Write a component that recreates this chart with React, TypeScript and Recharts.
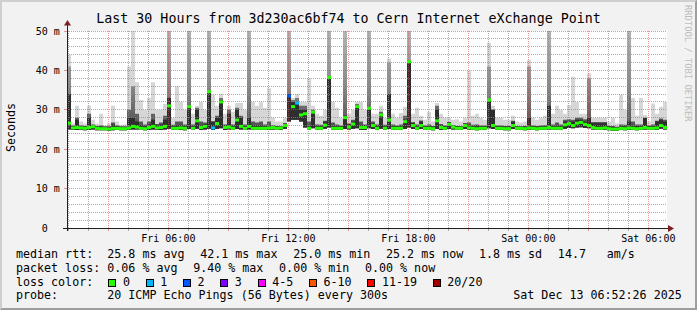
import React from "react";
import { ComposedChart, Area, Scatter, XAxis, YAxis, ReferenceLine, CartesianGrid } from "recharts";

// ---- time axis (minutes since Fri 00:00) ----
const START_MIN = 56; // Fri 00:56
const STEP_MIN = 12;
const END_MIN = 1856; // Sat 06:56

const xLabelTicks = [360, 720, 1080, 1440, 1800];
const xLabels = ["Fri 06:00", "Fri 12:00", "Fri 18:00", "Sat 00:00", "Sat 06:00"];
const hourTicks = [60, 120, 180, 240, 300, 360, 420, 480, 540, 600, 660, 720, 780, 840, 900, 960, 1020, 1080, 1140, 1200, 1260, 1320, 1380, 1440, 1500, 1560, 1620, 1680, 1740, 1800];
const yLabelTicks = [0, 10, 20, 30, 40, 50];
const yLabels = ["0  ", "10 m", "20 m", "30 m", "40 m", "50 m"];
const yMinorGrid = [2, 4, 6, 8, 12, 14, 16, 18, 22, 24, 26, 28, 32, 34, 36, 38, 42, 44, 46, 48];
const yMajorGrid = [10, 20, 30, 40, 50];

// ---- RTT data (ms), one value per 12-minute bin ----
const med = [
  26.6, 25.4, 25.5, 25.4, 25.3, 25.5, 25.7, 25.3, 25.2, 25.2,
  25.1, 25.3, 25.3, 25.2, 25.2, 25.4, 25.8, 25.6, 25.3, 25.2,
  25.5, 25.8, 25.4, 25.5, 25.8, 31.0, 25.3, 25.3, 25.4, 25.3,
  30.8, 25.3, 27.2, 25.5, 25.8, 34.6, 25.4, 26.5, 32.0, 25.5,
  25.6, 25.3, 27.4, 25.8, 25.3, 25.8, 25.3, 25.3, 25.3, 25.3,
  25.4, 25.5, 25.3, 25.4, 26.0, 33.5, 30.8, 31.7, 28.7, 29.0,
  25.3, 29.4, 25.3, 25.3, 26.1, 38.2, 25.3, 25.3, 25.3, 28.0,
  25.6, 26.4, 30.8, 25.5, 25.5, 30.4, 26.0, 25.3, 28.7, 25.3,
  27.4, 25.3, 25.3, 25.3, 27.0, 42.2, 26.0, 25.3, 26.0, 25.3,
  25.3, 25.2, 27.2, 25.5, 25.3, 26.3, 25.6, 25.3, 25.3, 26.0,
  25.4, 25.3, 25.2, 25.3, 25.3, 32.5, 26.0, 25.3, 25.3, 25.2,
  25.2, 26.0, 25.3, 25.3, 25.2, 25.4, 25.3, 25.2, 25.3, 25.3,
  25.5, 25.3, 25.3, 25.3, 26.2, 26.5, 26.0, 26.6, 26.8, 26.3,
  26.0, 25.5, 25.3, 25.3, 25.4, 25.2, 25.1, 25.1, 25.3, 25.2,
  25.4, 25.3, 25.2, 25.3, 25.5, 25.3, 25.3, 25.4, 26.0, 25.5,
];
const low = [
  25.0, 24.9, 24.9, 24.9, 24.8, 24.9, 25.0, 24.8, 24.8, 24.8,
  24.7, 24.8, 24.9, 24.8, 24.8, 24.9, 25.0, 25.0, 24.9, 24.8,
  24.9, 25.0, 24.9, 24.9, 25.0, 25.2, 24.9, 24.9, 24.9, 24.8,
  25.1, 24.9, 25.2, 24.9, 25.0, 25.2, 24.9, 25.1, 25.3, 24.9,
  25.0, 24.9, 25.1, 25.0, 24.9, 25.0, 24.9, 24.9, 24.9, 24.9,
  24.9, 25.0, 24.9, 24.9, 25.2, 27.0, 27.5, 27.5, 27.0, 25.5,
  24.9, 25.3, 24.9, 24.9, 25.2, 25.5, 24.9, 24.9, 24.9, 25.1,
  25.0, 25.2, 25.3, 24.9, 24.9, 25.3, 25.1, 24.9, 25.2, 24.9,
  25.1, 24.9, 24.9, 24.9, 25.1, 25.5, 25.1, 24.9, 25.1, 24.9,
  24.9, 24.8, 25.1, 24.9, 24.9, 25.1, 25.0, 24.9, 24.9, 25.1,
  24.9, 24.9, 24.8, 24.9, 24.9, 25.3, 25.1, 24.9, 24.9, 24.8,
  24.8, 25.1, 24.9, 24.9, 24.8, 24.9, 24.9, 24.8, 24.9, 24.9,
  25.0, 24.9, 24.9, 24.9, 25.2, 25.4, 25.3, 25.5, 25.6, 25.4,
  25.3, 25.0, 24.9, 24.9, 24.9, 24.8, 24.7, 24.7, 24.9, 24.8,
  24.9, 24.9, 24.8, 24.9, 25.0, 24.9, 24.9, 24.9, 25.2, 25.0,
];
const q3 = [
  34, 25.8, 27.5, 25.8, 25.7, 28, 26, 25.7, 25.7, 25.6,
  25.6, 26.3, 25.8, 25.6, 25.6, 28, 28, 27, 26, 25.8,
  26.3, 27.5, 26, 26.3, 27.5, 33, 25.8, 26, 26, 25.8,
  31, 25.8, 30, 26.1, 26.4, 34.6, 27, 28, 32.5, 26,
  29, 25.8, 30, 28, 25.8, 28, 26, 26, 26, 25.8,
  26, 25.9, 25.7, 25.8, 26.5, 34, 32, 32, 30, 30,
  25.8, 29.5, 25.8, 25.8, 27, 38.4, 25.8, 25.8, 25.8, 28.5,
  26.3, 27, 31, 26, 26, 30.5, 26.5, 25.8, 29, 25.8,
  34, 25.8, 25.8, 25.8, 27.5, 42.2, 26.8, 25.8, 27, 25.8,
  25.8, 25.7, 30, 26, 25.8, 26.8, 26, 25.8, 25.7, 26.5,
  25.9, 25.8, 25.8, 25.8, 25.8, 32.5, 30, 25.8, 25.8, 25.7,
  25.7, 27, 25.7, 25.7, 25.7, 28, 25.8, 25.7, 25.8, 25.8,
  31, 25.8, 25.8, 25.8, 27, 27, 27, 27.5, 27.5, 27,
  28, 26.6, 26.6, 26.6, 26.6, 25.7, 25.6, 25.5, 25.8, 25.7,
  27, 25.8, 25.8, 25.8, 27.9, 25.8, 25.8, 27, 27.5, 27,
];
const p90 = [
  41, 26, 28, 26, 25.9, 29, 26.3, 25.9, 26, 25.8,
  25.8, 26.8, 26, 25.8, 25.8, 30, 36, 29, 27, 26.3,
  27, 29, 26.4, 26.8, 28.5, 60, 26.2, 27, 27, 26.3,
  60, 26.3, 30.5, 27, 26.8, 60, 27, 28.5, 33, 26.3,
  30, 26.3, 30.5, 28.5, 26.3, 60, 27, 26.8, 27, 26.3,
  27, 26.1, 25.9, 25.9, 26.6, 60, 32.5, 33, 31, 31,
  27, 30, 26.3, 26.2, 27.2, 60, 26.8, 26.3, 26, 60,
  26.5, 27.5, 31.5, 27, 26.3, 60, 27, 26.3, 29.5, 26.2,
  42, 26.3, 26, 26.3, 28.5, 60, 26.8, 26.3, 27.3, 26,
  26.3, 25.9, 31, 26.4, 26, 26.9, 26.1, 25.9, 25.9, 26.6,
  26.8, 26.2, 26.3, 26, 26, 41, 30, 26, 26, 25.9,
  25.9, 27.2, 25.9, 25.8, 25.9, 41, 26, 25.9, 26, 26.1,
  60, 26.3, 26.8, 26.3, 27.5, 27.6, 27.5, 28, 28, 27.6,
  38, 26.9, 26.9, 26.9, 26.9, 25.9, 25.9, 25.7, 26.3, 26.2,
  60, 27, 26.3, 26.3, 28, 26, 26.3, 27.2, 27.8, 27.5,
];
const hi = [
  44, 26.5, 31, 27, 26.5, 31, 27.5, 26.5, 29, 26,
  26.5, 31, 27, 26.2, 26.3, 41, 52, 37, 32.5, 30,
  33, 37, 30, 30, 31.5, 60, 28, 36, 32, 30,
  60, 29, 31, 32, 30, 60, 33.8, 31, 34, 29,
  31, 29.5, 31.7, 31.7, 30, 60, 32, 31, 32, 30.5,
  35.5, 28, 27, 27, 28, 60, 33, 34, 32, 32,
  38, 31, 29, 28.5, 30, 60, 32, 30.5, 28, 60,
  29, 30, 32, 32, 30, 60, 29, 29, 31, 28,
  43, 29, 28, 29.2, 30.8, 60, 29, 30.5, 28.5, 27.5,
  29.5, 27, 31.7, 29, 28, 28, 27.5, 27.6, 27, 28,
  40, 28.5, 29, 28, 27.5, 47, 31, 28, 28, 27.5,
  27.5, 28.5, 27, 26.8, 27, 42.6, 28, 27.5, 28, 28.5,
  60, 29, 31, 30, 29, 31.2, 38.4, 32, 29, 29,
  39.2, 28, 28, 28, 28, 27, 28, 26.5, 33.8, 30,
  60, 33, 28.5, 33, 28.7, 27, 31.6, 29, 30.8, 32,
];
// lost pings per bin (of 20)
const loss = [
  0, 0, 0, 0, 0, 0, 0, 0, 0, 0,
  0, 0, 0, 0, 0, 0, 0, 0, 0, 0,
  0, 0, 0, 0, 0, 0, 0, 0, 0, 0,
  0, 0, 0, 0, 0, 0, 1, 0, 0, 0,
  0, 0, 0, 0, 0, 0, 0, 0, 0, 0,
  0, 0, 0, 0, 0, 2, 0, 1, 0, 0,
  0, 0, 0, 0, 0, 0, 0, 0, 0, 0,
  0, 0, 0, 0, 0, 0, 0, 0, 0, 0,
  0, 0, 0, 0, 0, 0, 0, 0, 0, 0,
  0, 0, 0, 0, 0, 0, 0, 0, 0, 0,
  0, 0, 0, 0, 0, 0, 0, 0, 0, 0,
  0, 0, 0, 0, 0, 0, 0, 0, 0, 0,
  0, 0, 0, 0, 0, 0, 0, 0, 0, 0,
  0, 0, 0, 0, 0, 0, 0, 0, 0, 0,
  0, 0, 0, 0, 0, 0, 0, 0, 0, 0,
];

// ---- legend ----
const lossLabels = ["0", "1", "2", "3", "4-5", "6-10", "11-19", "20/20"];
const lossColors = ["#26ff00", "#00b8ff", "#0059ff", "#7e00ff", "#ff00ff", "#ff5500", "#ff0000", "#a10000"];
const lossColorOf = (n: number) => (n <= 0 ? lossColors[0] : n === 1 ? lossColors[1] : n === 2 ? lossColors[2] : n === 3 ? lossColors[3] : n <= 5 ? lossColors[4] : n <= 10 ? lossColors[5] : n <= 19 ? lossColors[6] : lossColors[7]);

const TITLE = "Last 30 Hours from 3d230ac6bf74 to Cern Internet eXchange Point";
const rttStats = ["25.8 ms avg", "42.1 ms max", "25.0 ms min", "25.2 ms now", "1.8 ms sd"];
const lossStats = ["0.06 % avg", "9.40 % max", "0.00 % min", "0.00 % now"];
const amsValue = "14.7";
const PROBE = "20 ICMP Echo Pings (56 Bytes) every 300s";
const STAMP = "Sat Dec 13 06:52:26 2025";

// ---- derived chart tables ----
const chartData = med.map((_, i) => ({ m: START_MIN + i * STEP_MIN, low: low[i], q3: q3[i], p90: p90[i], hi: hi[i] }));
chartData.push({ ...chartData[chartData.length - 1], m: END_MIN });
const medianPts = med.map((v, i) => ({ m: START_MIN + i * STEP_MIN + STEP_MIN / 2, med: v, loss: loss[i] }));

// ---- styles ----
const FONT = "'DejaVu Sans Mono', monospace";
const MINOR = "rgba(143,143,143,0.75)";
const MAJOR = "rgba(222,79,79,0.6)";
const CH = 7.02; // legend char advance
const GAP = 15.7;

const XTick = (props: any) => {
  const { x, y, payload } = props;
  const v = payload.value;
  const idx = xLabelTicks.indexOf(v);
  const major = v % 180 === 0;
  return (
    <g>
      <line x1={x} x2={x} y1={y} y2={y + 3} stroke={major ? MAJOR : MINOR} shapeRendering="crispEdges" />
      {idx >= 0 && (
        <text x={x} y={y + 13.5} textAnchor="middle" fontFamily={FONT} fontSize={10} fill="#000">
          {xLabels[idx]}
        </text>
      )}
    </g>
  );
};

const YTick = (props: any) => {
  const { x, y, payload } = props;
  const idx = yLabelTicks.indexOf(payload.value);
  return (
    <g>
      <line x1={x - 3} x2={x} y1={y} y2={y} stroke={payload.value === 0 ? "#1f1f1f" : MAJOR} shapeRendering="crispEdges" />
      <text x={x - 7.2} y={y + 3.6} textAnchor="end" fontFamily={FONT} fontSize={10} fill="#000" xmlSpace="preserve" style={{ whiteSpace: "pre" }}>
        {yLabels[idx]}
      </text>
    </g>
  );
};

const MedianMark = (props: any) => {
  const { cx, cy, payload } = props;
  if (cx == null || cy == null) return <g />;
  return <rect x={cx - 2} y={cy - 1.5} width={4} height={3} fill={lossColorOf(payload.loss)} />;
};

const LegendText = ({ x, y, children, anchor }: any) => (
  <text x={x} y={y} fontFamily={FONT} fontSize={11.66} fill="#000" textAnchor={anchor || "start"} xmlSpace="preserve" style={{ whiteSpace: "pre" }}>
    {children}
  </text>
);

function Legend() {
  const rows: any[] = [];
  let x = 107.3;
  rows.push(<LegendText key="r1l" x={16} y={258.3}>median rtt:</LegendText>);
  rttStats.forEach((s, i) => {
    rows.push(<LegendText key={"r1" + i} x={x} y={258.3}>{s}</LegendText>);
    x += s.length * CH + GAP;
  });
  rows.push(<LegendText key="r1a" x={x} y={258.3}>{amsValue}</LegendText>);
  rows.push(<LegendText key="r1b" x={606.7} y={258.3}>am/s</LegendText>);
  x = 107.3;
  rows.push(<LegendText key="r2l" x={16} y={272}>packet loss:</LegendText>);
  lossStats.forEach((s, i) => {
    rows.push(<LegendText key={"r2" + i} x={x} y={272}>{s}</LegendText>);
    x += s.length * CH + GAP;
  });
  rows.push(<LegendText key="r3l" x={16} y={285.7}>loss color:</LegendText>);
  x = 108.3;
  lossLabels.forEach((s, i) => {
    rows.push(<rect key={"r3b" + i} x={x + 0.5} y={279.5} width={7} height={7} fill={lossColors[i]} stroke="#000" strokeWidth={1} shapeRendering="crispEdges" />);
    rows.push(<LegendText key={"r3t" + i} x={x + 14.6} y={285.7}>{s}</LegendText>);
    x += 14.6 + s.length * CH + GAP;
  });
  rows.push(<LegendText key="r4l" x={16} y={299.4}>probe:</LegendText>);
  rows.push(<LegendText key="r4p" x={107.3} y={299.4}>{PROBE}</LegendText>);
  rows.push(<LegendText key="r4s" x={513.3} y={299.4}>{STAMP}</LegendText>);
  return <g>{rows}</g>;
}

export default function App() {
  return (
    <div
      style={{
        position: "absolute",
        left: 0,
        top: 0,
        width: 697,
        height: 310,
        background: "#f2f2f2",
        boxSizing: "border-box",
        borderTop: "2px solid #cfcfcf",
        borderLeft: "2px solid #cfcfcf",
        borderRight: "2px solid #9e9e9e",
        borderBottom: "2px solid #9e9e9e",
        overflow: "hidden",
      }}
    >
      <div style={{ position: "absolute", left: -2, top: -2 }}>
        <ComposedChart width={697} height={310} data={chartData} margin={{ top: 31, right: 30, bottom: 0, left: 0 }}>
          <defs>
            <linearGradient id="smokeMid" x1="0" y1="31" x2="0" y2="128" gradientUnits="userSpaceOnUse">
              <stop offset="0" stopColor="#b4b4b4" />
              <stop offset="0.55" stopColor="#8a8a8a" />
              <stop offset="1" stopColor="#505050" />
            </linearGradient>
          </defs>
          <CartesianGrid horizontal={false} vertical={false} fill="#ffffff" />
          <XAxis
            dataKey="m"
            type="number"
            domain={[START_MIN, END_MIN]}
            ticks={hourTicks}
            interval={0}
            height={82}
            tickSize={0}
            tickMargin={0}
            axisLine={false}
            tickLine={false}
            tick={<XTick />}
            allowDataOverflow
          />
          <YAxis
            type="number"
            domain={[0, 50]}
            ticks={yLabelTicks}
            interval={0}
            width={67}
            tickSize={0}
            tickMargin={0}
            axisLine={false}
            tickLine={false}
            tick={<YTick />}
            allowDataOverflow
          />
          <Area type="stepAfter" dataKey={(d: any) => [d.low, d.hi]} fill="#d6d6d6" fillOpacity={1} stroke="none" dot={false} activeDot={false} isAnimationActive={false} />
          <Area type="stepAfter" dataKey={(d: any) => [d.low, d.p90]} fill="url(#smokeMid)" fillOpacity={1} stroke="none" dot={false} activeDot={false} isAnimationActive={false} />
          <Area type="stepAfter" dataKey={(d: any) => [d.low, d.q3]} fill="#2e2e2e" fillOpacity={1} stroke="none" dot={false} activeDot={false} isAnimationActive={false} />
          <Scatter data={medianPts} dataKey="med" shape={<MedianMark />} isAnimationActive={false} />
          {yMinorGrid.map((v) => (
            <ReferenceLine key={"gy" + v} y={v} stroke={MINOR} strokeDasharray="1 1" shapeRendering="crispEdges" />
          ))}
          {hourTicks.filter((v) => v % 180 !== 0).map((v) => (
            <ReferenceLine key={"gx" + v} x={v} stroke={MINOR} strokeDasharray="1 1" shapeRendering="crispEdges" />
          ))}
          {yMajorGrid.map((v) => (
            <ReferenceLine key={"my" + v} y={v} stroke={MAJOR} strokeDasharray="1 1" shapeRendering="crispEdges" />
          ))}
          {hourTicks.filter((v) => v % 180 === 0).map((v) => (
            <ReferenceLine key={"mx" + v} x={v} stroke={MAJOR} strokeDasharray="1 1" shapeRendering="crispEdges" />
          ))}
        </ComposedChart>
      </div>
      <svg width={697} height={310} style={{ position: "absolute", left: -2, top: -2, pointerEvents: "none" }}>
        <text x={348.5} y={23} textAnchor="middle" fontFamily={FONT} fontSize={13.3} fill="#000">
          {TITLE}
        </text>
        <text transform="translate(15,127.5) rotate(-90)" textAnchor="middle" fontFamily={FONT} fontSize={11.66} fill="#000">
          Seconds
        </text>
        <text transform="translate(685,5) rotate(90)" fontFamily={FONT} fontSize={8.8} fill="#bdbdbd">
          RRDTOOL / TOBI OETIKER
        </text>
        <line x1={63} x2={669} y1={228.5} y2={228.5} stroke="#1f1f1f" strokeWidth={1} />
        <line x1={67.5} x2={67.5} y1={231} y2={24} stroke="#1f1f1f" strokeWidth={1} />
        <polygon points="668,225 674,228.5 668,232" fill="#801f1f" />
        <polygon points="64,25.5 67.5,20 71,25.5" fill="#801f1f" />
        <Legend />
      </svg>
    </div>
  );
}
